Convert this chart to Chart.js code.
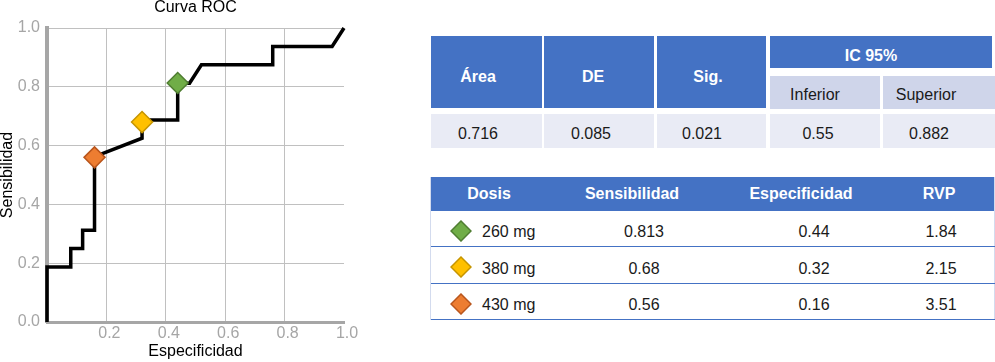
<!DOCTYPE html>
<html>
<head>
<meta charset="utf-8">
<script src="https://cdn.jsdelivr.net/npm/chart.js@4"></script>
<style>
html, body { margin: 0; padding: 0; background: #fff; }
body {
    position: relative; width: 995px; height: 362px; overflow: hidden;
    font-family: "Liberation Sans", Arial, sans-serif;
}
#chartBox { position: absolute; left: 0; top: 0; width: 362px; height: 362px; }
.box { position: absolute; box-sizing: border-box; }
.hd { background: #4472c4; }
.sub { background: #cfd5ea; }
.row { background: #e9ebf5; }
.line { background: #4472c4; }
.edge { background: #d3dbee; }
.txt {
    position: absolute; transform: translate(-50%, -50%);
    white-space: nowrap; font-size: 16px; line-height: 1; color: #1a1a1a;
}
.txt.left { transform: translate(0, -50%); }
.txt.bold { font-weight: bold; color: #fff; }
.dia { position: absolute; width: 22px; height: 22px; }
</style>
</head>
<body>
<div id="chartBox"><canvas id="rocChart"></canvas></div>
<div id="tables"></div>
<script>
/* ==============================
   DATA
============================== */
// curva ROC (especificidad, sensibilidad)
var rocSpec = [0, 0, 0.08, 0.08, 0.12, 0.12, 0.16, 0.16, 0.32, 0.32, 0.44, 0.44, 0.48, 0.52, 0.76, 0.76, 0.96, 1.0];
var rocSens = [0, 0.1875, 0.1875, 0.25, 0.25, 0.3125, 0.3125, 0.5625, 0.625, 0.6875, 0.6875, 0.8125, 0.8125, 0.875, 0.875, 0.9375, 0.9375, 1.0];
var axisTicks = [0, 0.2, 0.4, 0.6, 0.8, 1.0];

// tabla área bajo la curva
var aucLabels = ["Área", "DE", "Sig."];
var aucValues = [0.716, 0.085, 0.021];
var ciTitle = "IC 95%";
var ciLabels = ["Inferior", "Superior"];
var ciValues = [0.55, 0.882];

// tabla de dosis
var doseHeaders = ["Dosis", "Sensibilidad", "Especificidad", "RVP"];
var doses = ["260 mg", "380 mg", "430 mg"];
var sensitivity = [0.813, 0.68, 0.56];
var specificity = [0.44, 0.32, 0.16];
var rvp = [1.84, 2.15, 3.51];

/* ==============================
   STYLE
============================== */
var doseFill = ["#70ad47", "#ffc000", "#ed7d31"];
var doseBorder = ["#507e32", "#c69500", "#b9561d"];
var FONT = "'Liberation Sans', Arial, sans-serif";

/* ==============================
   TABLES
============================== */
var root = document.getElementById("tables");

function box(x, y, w, h, cls) {
    var d = document.createElement("div");
    d.className = "box " + cls;
    d.style.left = x + "px";
    d.style.top = y + "px";
    d.style.width = w + "px";
    d.style.height = h + "px";
    root.appendChild(d);
}

function label(text, cx, cy, cls) {
    var s = document.createElement("span");
    s.className = "txt" + (cls ? " " + cls : "");
    s.textContent = text;
    s.style.left = cx + "px";
    s.style.top = cy + "px";
    root.appendChild(s);
}

function diamond(cx, cy, fill, stroke) {
    var ns = "http://www.w3.org/2000/svg";
    var svg = document.createElementNS(ns, "svg");
    svg.setAttribute("class", "dia");
    svg.setAttribute("viewBox", "0 0 22 22");
    svg.style.left = (cx - 11) + "px";
    svg.style.top = (cy - 11) + "px";
    var p = document.createElementNS(ns, "polygon");
    p.setAttribute("points", "11,1 21,11 11,21 1,11");
    p.setAttribute("fill", fill);
    p.setAttribute("stroke", stroke);
    p.setAttribute("stroke-width", "1.5");
    svg.appendChild(p);
    root.appendChild(svg);
}

function buildAucTable() {
    var cols = [
        { x: 431, w: 111 }, { x: 544, w: 110 }, { x: 657, w: 109 },
        { x: 770, w: 110 }, { x: 883, w: 112 }
    ];
    var headX = [478, 593, 708];
    var ciX = [815, 926];
    var dataX = [478, 591, 702, 818, 929];

    aucLabels.forEach(function (t, i) {
        box(cols[i].x, 36, cols[i].w, 72, "hd");
        label(t, headX[i], 77, "bold");
    });
    box(770, 36, 222, 32, "hd");
    label(ciTitle, 871, 56, "bold");
    ciLabels.forEach(function (t, i) {
        box(cols[3 + i].x, 76, cols[3 + i].w, 33, "sub");
        label(t, ciX[i], 95);
    });
    aucValues.concat(ciValues).forEach(function (v, i) {
        box(cols[i].x, 114, cols[i].w, 34, "row");
        label(String(v), dataX[i], 134);
    });
}

function buildDoseTable() {
    var headX = [489, 632, 801, 939];
    var valX = [644, 814, 941];
    var rowY = [232, 268.5, 305];
    var lineY = [246, 283, 319];

    box(431, 177, 564, 34, "hd");
    box(430, 177, 1, 143, "edge");
    box(994, 177, 1, 143, "edge");
    doseHeaders.forEach(function (t, i) {
        label(t, headX[i], 194, "bold");
    });
    doses.forEach(function (d, i) {
        box(431, lineY[i], 564, 1, "line");
        diamond(461, rowY[i] - 1.5, doseFill[i], doseBorder[i]);
        label(d, 482, rowY[i], "left");
        label(String(sensitivity[i]), valX[0], rowY[i]);
        label(String(specificity[i]), valX[1], rowY[i]);
        label(String(rvp[i]), valX[2], rowY[i]);
    });
}

/* ==============================
   CHART
============================== */
function initChart() {
    var curve = rocSpec.map(function (x, i) { return { x: x, y: rocSens[i] }; });
    var markerSets = doses.map(function (d, i) {
        return {
            label: d,
            data: [{ x: specificity[i], y: sensitivity[i] }],
            pointStyle: "rectRot",
            pointRadius: 10.5,
            backgroundColor: doseFill[i],
            borderColor: doseBorder[i],
            borderWidth: 1.5,
            clip: false,
            order: 0
        };
    });

    new Chart(document.getElementById("rocChart"), {
        type: "scatter",
        data: {
            datasets: markerSets.concat([{
                label: "ROC",
                data: curve,
                showLine: true,
                borderColor: "#000",
                borderWidth: 3.5,
                borderJoinStyle: "miter",
                borderCapStyle: "butt",
                pointRadius: 0,
                tension: 0,
                clip: false,
                order: 1
            }])
        },
        options: {
            animation: false,
            responsive: true,
            maintainAspectRatio: false,
            layout: { padding: { right: 18, left: 0, top: 0, bottom: 0 } },
            plugins: {
                legend: { display: false },
                tooltip: { enabled: false },
                title: {
                    display: true,
                    text: "Curva ROC",
                    fullSize: false,
                    color: "#000",
                    font: { family: FONT, size: 16, weight: "normal", lineHeight: 1 },
                    padding: { top: 0, bottom: 12 }
                }
            },
            scales: {
                x: {
                    type: "linear",
                    min: 0,
                    max: 1,
                    afterBuildTicks: function (s) {
                        s.ticks = axisTicks.map(function (v) { return { value: v }; });
                    },
                    afterFit: function (s) { s.height = 40; },
                    ticks: {
                        callback: function (v) { return v === 0 ? "" : Number(v).toFixed(1); },
                        color: "#a6a6a6",
                        font: { family: FONT, size: 16 },
                        padding: 2,
                        labelOffset: 3,
                        maxRotation: 0,
                        autoSkip: false
                    },
                    grid: {
                        color: function (ctx) {
                            var v = ctx.tick ? ctx.tick.value : null;
                            return (v === 0 || v === 1) ? "rgba(0,0,0,0)" : "#c0c0c0";
                        },
                        lineWidth: 1,
                        drawTicks: false
                    },
                    border: { color: "#a6a6a6", width: 3 },
                    title: {
                        display: true,
                        text: "Especificidad",
                        color: "#000",
                        font: { family: FONT, size: 16, lineHeight: 1 },
                        padding: { top: 0, bottom: 2 }
                    }
                },
                y: {
                    type: "linear",
                    min: 0,
                    max: 1,
                    afterBuildTicks: function (s) {
                        s.ticks = axisTicks.map(function (v) { return { value: v }; });
                    },
                    afterFit: function (s) { s.width = 47; },
                    ticks: {
                        callback: function (v) { return Number(v).toFixed(1); },
                        color: "#a6a6a6",
                        font: { family: FONT, size: 16 },
                        padding: 7,
                        autoSkip: false
                    },
                    grid: {
                        color: function (ctx) {
                            var v = ctx.tick ? ctx.tick.value : null;
                            return v === 0 ? "rgba(0,0,0,0)" : "#c0c0c0";
                        },
                        lineWidth: 1,
                        drawTicks: false
                    },
                    border: { color: "#a6a6a6", width: 4 },
                    title: {
                        display: true,
                        text: "Sensibilidad",
                        color: "#000",
                        font: { family: FONT, size: 16, lineHeight: 1 },
                        padding: { top: 0, bottom: 0 }
                    }
                }
            }
        }
    });
}

buildAucTable();
buildDoseTable();
initChart();
</script>
</body>
</html>
